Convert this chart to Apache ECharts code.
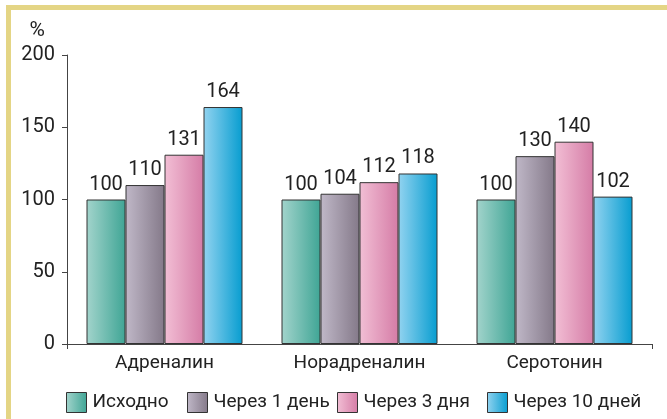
<!DOCTYPE html>
<html><head><meta charset="utf-8">
<script src="https://cdn.jsdelivr.net/npm/echarts@6/dist/echarts.min.js"></script>
<style>html,body{margin:0;padding:0;background:#fff}#c{width:667px;height:419px}</style>
</head><body><div id="c"></div>
<script>
var categories = ['Адреналин', 'Норадреналин', 'Серотонин'];
var seriesNames = ['Исходно', 'Через 1 день', 'Через 3 дня', 'Через 10 дней'];
var ishodno = [100, 100, 100];
var den1 = [110, 104, 130];
var dnya3 = [131, 112, 140];
var dney10 = [164, 118, 102];
var yTicks = [0, 50, 100, 150, 200];

var FONT = 'Roboto, "Liberation Sans", sans-serif';
var gradColors = [['#a3d4cc', '#3fa595'], ['#c0b8c8', '#847989'], ['#f2bfd5', '#d57ca6'], ['#92d3f0', '#079dd0']];
function grad(c) {
  return new echarts.graphic.LinearGradient(0, 0, 1, 0, [{offset: 0, color: c[0]}, {offset: 1, color: c[1]}]);
}
var data = [ishodno, den1, dnya3, dney10];
var legendLefts = [66, 187, 337, 487];
var chart = echarts.init(document.getElementById('c'), null, {renderer: 'canvas'});
chart.setOption({
  animation: false,
  backgroundColor: '#fff',
  graphic: [
    {type: 'rect', shape: {x: 6, y: 5, width: 661, height: 5}, style: {fill: '#e4d585'}},
    {type: 'rect', shape: {x: 6, y: 5, width: 5, height: 414}, style: {fill: '#e4d585'}}
  ],
  grid: {left: 67, right: 15, top: 55, bottom: 75},
  legend: seriesNames.map(function (n, i) {
    return {
      data: [{name: n, icon: 'rect'}], left: legendLefts[i], top: 392, padding: 0, itemWidth: 20, itemHeight: 20,
      textStyle: {fontFamily: FONT, fontSize: 19, color: '#222', padding: [0, 0, 0, 1]},
      itemStyle: {borderColor: '#333', borderWidth: 1}
    };
  }),
  xAxis: {
    type: 'category', data: categories,
    axisLine: {lineStyle: {color: '#444', width: 1}},
    axisTick: {show: true, length: 5, interval: function (i) { return i === 0 || i === 3; }, lineStyle: {color: '#444'}},
    axisLabel: {fontFamily: FONT, fontSize: 19, color: '#222', margin: 10}
  },
  yAxis: {
    type: 'value', min: 0, max: 200, interval: 50,
    name: '%', nameGap: 14, nameTextStyle: {fontFamily: FONT, fontSize: 21, color: '#222', align: 'right', padding: [0, 22, 0, 0]},
    axisLine: {show: true, lineStyle: {color: '#444', width: 1}},
    axisTick: {show: true, length: 5, lineStyle: {color: '#444'}},
    splitLine: {show: false},
    axisLabel: {fontFamily: FONT, fontSize: 20, color: '#222', margin: 12,
      formatter: function (v) { return yTicks.indexOf(v) >= 0 ? String(v) : ''; }}
  },
  series: seriesNames.map(function (n, i) {
    return {
      name: n, type: 'bar', data: data[i], barWidth: 39, barGap: '0%',
      itemStyle: {color: grad(gradColors[i]), borderColor: '#333', borderWidth: 1},
      label: {show: true, position: 'top', distance: 5, fontFamily: FONT, fontSize: 20, color: '#222'}
    };
  })
});
</script></body></html>
